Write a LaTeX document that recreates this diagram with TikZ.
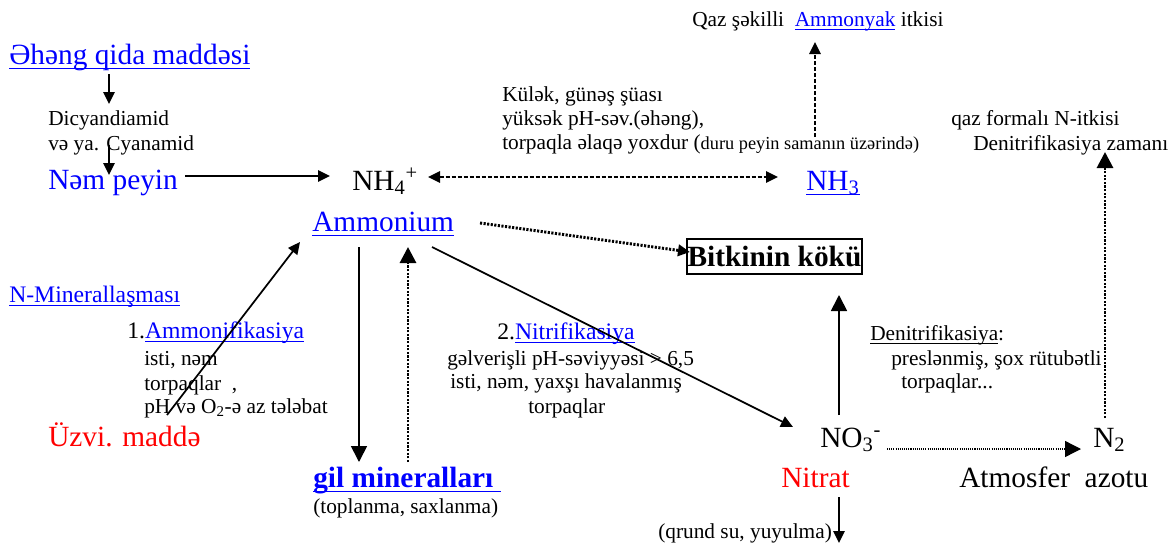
\documentclass[tikz,border=0pt]{standalone}
\usepackage{fontspec}
\setmainfont{Liberation Serif}
\usetikzlibrary{arrows.meta}

\definecolor{lnkblue}{RGB}{0,0,255}
\definecolor{orgred}{RGB}{255,0,0}

\newcommand{\fsL}{\fontsize{22}{26}\selectfont}
\newcommand{\fsM}{\fontsize{17.75}{21}\selectfont}
\newcommand{\fsS}{\fontsize{16}{19}\selectfont}
\newcommand{\fsT}{\fontsize{13.75}{16}\selectfont}

% underlined link text, line crossing the descenders
\newsavebox\lnkbox
\newcommand{\lnk}[1]{\sbox\lnkbox{#1}\rlap{\rule[-0.18em]{\wd\lnkbox}{0.055em}}\usebox\lnkbox}

\tikzset{
  txt/.style={anchor=base west, inner sep=0pt},
  bigtxt/.style={txt, font=\fsL},
  medtxt/.style={txt, font=\fsM},
  smalltxt/.style={txt, font=\fsS},
  arr/.style={-{Triangle[length=9pt,width=8.5pt]}, line width=1.3pt},
  bigarr/.style={-{Triangle[length=12pt,width=12pt]}, line width=1.3pt},
  dashline/.style={dash pattern=on 3pt off 1.5pt, line width=1.3pt},
  dotline/.style={dash pattern=on 1.6pt off 1.1pt, line width=2.2pt},
  thindot/.style={dash pattern=on 0.8pt off 0.8pt, line width=1pt},
}

\begin{document}
\begin{tikzpicture}[x=0.75pt,y=-0.75pt]
  \fill[white] (0,0) rectangle (1172,547);

  % Marking texts at the top left
  \draw (9,64) node [bigtxt, text=lnkblue] (ahang) {\lnk{Əhəng qida maddəsi}};
  \draw (48,125) node [smalltxt] (dicy) {Dicyandiamid};
  \draw (48,150) node [smalltxt] (cyan) {və ya. Cyanamid};
  \draw (48,189) node [bigtxt, text=lnkblue] (nem) {Nəm peyin};

  % Marking ammonium
  \draw (352,190) node [bigtxt] (nh4) {NH\textsubscript{4}\textsuperscript{+}};
  \draw (312,231) node [bigtxt, text=lnkblue] (ammonium) {\lnk{Ammonium}};

  % Marking ammonia loss
  \draw (502,101) node [smalltxt] (kulek) {Külək, günəş şüası};
  \draw (502,125) node [smalltxt] (yuksek) {yüksək pH-səv.(əhəng),};
  \draw (502,149) node [smalltxt] (torpaqla) {torpaqla əlaqə yoxdur ({\fsT duru peyin samanın üzərində)}};
  \draw (806,190) node [bigtxt, text=lnkblue] (nh3) {\lnk{NH\textsubscript{3}}};
  \draw (692,26) node [smalltxt] (qaz) {Qaz şəkilli\ \ {\color{lnkblue}\lnk{Ammonyak}} itkisi};

  % Marking gaseous loss
  \draw (951,125) node [smalltxt] (qazform) {qaz formalı N-itkisi};
  \draw (973,150) node [smalltxt] (denzaman) {Denitrifikasiya zamanı};

  % Marking root box
  \draw (774.5,256.5) node [draw, line width=1.5pt, inner sep=0pt, minimum width=131pt,
    minimum height=26pt, font=\fsL\bfseries] (koku) {Bitkinin kökü};

  % Marking mineralisation
  \draw (9,302) node [medtxt, text=lnkblue] (nminer) {\lnk{N-Minerallaşması}};
  \draw (127,338) node [medtxt] (amf) {1.{\color{lnkblue}\lnk{Ammonifikasiya}}};
  \draw (144,365) node [smalltxt] (isti1) {isti, nəm};
  \draw (144,390) node [smalltxt] (torp1) {torpaqlar\ \ ,};
  \draw (144,413) node [smalltxt] (ph1) {pH və O\textsubscript{2}-ə az tələbat};
  \draw (48,446) node [bigtxt, text=orgred] (uzvi) {Üzvi. maddə};

  % Marking clay minerals
  \draw (313,487) node [bigtxt, font=\fsL\bfseries, text=lnkblue] (gil) {\lnk{gil mineralları\ }};
  \draw (313,513) node [smalltxt] (toplanma) {(toplanma, saxlanma)};

  % Marking nitrification
  \draw (497,339) node [medtxt] (nitr) {2.{\color{lnkblue}\lnk{Nitrifikasiya}}};
  \draw (447,365) node [smalltxt] (gelv) {gəlverişli pH-səviyyəsi > 6,5};
  \draw (450,388) node [smalltxt] (isti2) {isti, nəm, yaxşı havalanmış};
  \draw (528,413) node [smalltxt] (torp2) {torpaqlar};

  % Marking denitrification
  \draw (870,340) node [smalltxt] (denitr) {\lnk{Denitrifikasiya}:};
  \draw (891,365) node [smalltxt] (presl) {preslənmiş, şox rütubətli};
  \draw (901,388) node [smalltxt] (torp3) {torpaqlar...};

  % Marking nitrate and nitrogen
  \draw (820,447) node [bigtxt] (no3) {NO\textsubscript{3}\textsuperscript{-}};
  \draw (781,487) node [bigtxt, text=orgred] (nitrat) {Nitrat};
  \draw (1093,447) node [bigtxt] (n2) {N\textsubscript{2}};
  \draw (959,487) node [bigtxt] (atmos) {Atmosfer\ \ azotu};
  \draw (658,538) node [smalltxt] (qrund) {(qrund su, yuyulma)};

  % Arrow ends
  \coordinate (ahangOut) at (109,74);
  \coordinate (dicyIn) at (109,104);
  \coordinate (cyanOut) at (109,145);
  \coordinate (nemIn) at (109,175);
  \coordinate (nemOut) at (185,176);
  \coordinate (nh4In) at (330,176);
  \coordinate (nh4Out) at (428,177);
  \coordinate (nh3In) at (778,177);
  \coordinate (nh3Out) at (815,137);
  \coordinate (qazIn) at (815,42);
  \coordinate (ammRight) at (480,223);
  \coordinate (kokuIn) at (690,252);
  \coordinate (ammDown) at (359,247);
  \coordinate (gilIn) at (359,462);
  \coordinate (gilOut) at (408,462);
  \coordinate (ammIn) at (408,247);
  \coordinate (uzviOut) at (167,415);
  \coordinate (ammLeft) at (300,242);
  \coordinate (ammDiag) at (432,247);
  \coordinate (no3In) at (793,427);
  \coordinate (no3Up) at (839,415);
  \coordinate (kokuBelow) at (839,295);
  \coordinate (nitratOut) at (839,497);
  \coordinate (qrundEnd) at (839,543);
  \coordinate (no3Right) at (887,449);
  \coordinate (n2In) at (1081,449);
  \coordinate (n2Up) at (1105,418);
  \coordinate (denzamanIn) at (1105,152);

  % Drawing arrows
  \draw [arr] (ahangOut) -- (dicyIn);
  \draw [arr] (cyanOut) -- (nemIn);
  \draw [arr] (nemOut) -- (nh4In);
  \draw [arr, {Triangle[length=9pt,width=8.5pt]}-{Triangle[length=9pt,width=8.5pt]}, dashline] (nh4Out) -- (nh3In);
  \draw [arr, dashline] (nh3Out) -- (qazIn);
  \draw [arr, dotline] (ammRight) -- (kokuIn);
  \draw [bigarr] (ammDown) -- (gilIn);
  \draw [bigarr, dotline] (gilOut) -- (ammIn);
  \draw [arr] (uzviOut) -- (ammLeft);
  \draw [arr] (ammDiag) -- (no3In);
  \draw [bigarr] (no3Up) -- (kokuBelow);
  \draw [arr] (nitratOut) -- (qrundEnd);
  \draw [bigarr, thindot] (no3Right) -- (n2In);
  \draw [bigarr, dotline] (n2Up) -- (denzamanIn);
\end{tikzpicture}
\end{document}
